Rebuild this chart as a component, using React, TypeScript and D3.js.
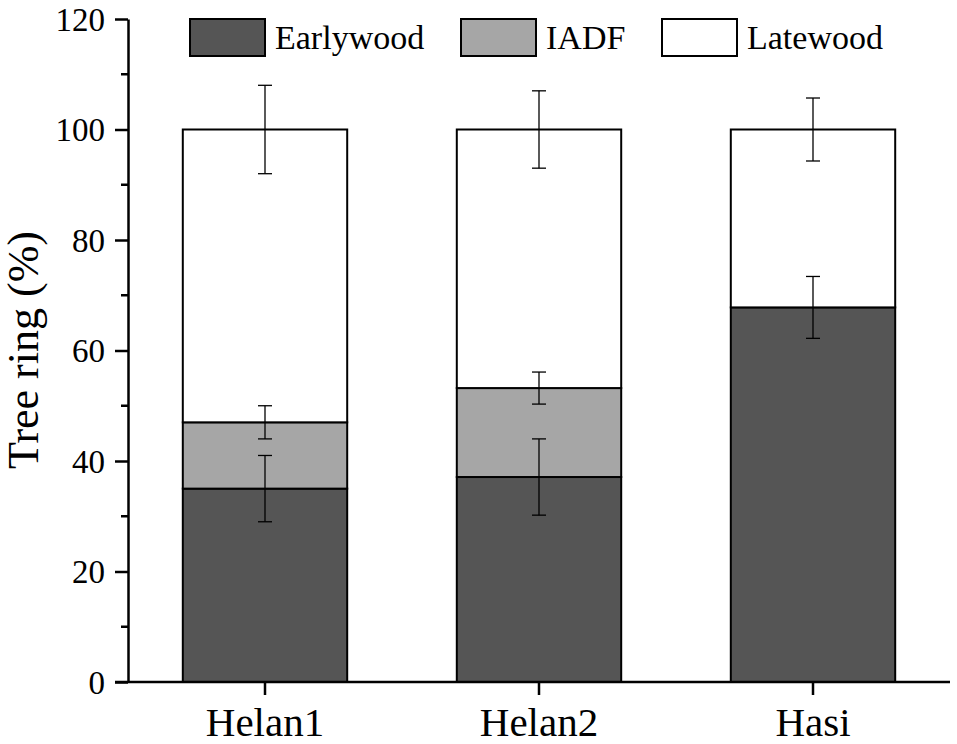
import React, { useRef, useEffect } from 'react';
import * as d3 from 'd3';

// Sites on the x axis
const categories = ['Helan1', 'Helan2', 'Hasi'];
// Stacked shares of the tree ring (%)
const earlywood = [35, 37.1, 67.8];
const iadf = [12, 16.1, 0];
const latewood = [53, 46.8, 32.2];
// Error bar half-lengths
const earlywoodErr = [6, 6.9, 5.6];
const iadfErr = [3, 2.9, 0];
const latewoodErr = [8, 7, 5.7];

const seriesNames = ['Earlywood', 'IADF', 'Latewood'];
const seriesColors = ['#555555', '#a6a6a6', '#ffffff'];
const yTicks = [0, 20, 40, 60, 80, 100, 120];

const App: React.FC = () => {
  const svgRef = useRef<SVGSVGElement | null>(null);

  useEffect(() => {
    document.body.style.margin = '0';
    if (!svgRef.current) return;

    const width = 957;
    const height = 744;
    const left = 128;
    const right = 950;
    const top = 19;
    const bottom = 682;
    const font = "'Liberation Serif', 'Times New Roman', serif";

    const svg = d3
      .select(svgRef.current)
      .attr('width', width)
      .attr('height', height)
      .style('font-family', font);
    svg.selectAll('*').remove();

    const x = d3.scaleBand().domain(categories).range([left, right]).paddingInner(0.4).paddingOuter(0.2);
    const y = d3.scaleLinear().domain([0, 120]).range([bottom, top]);

    const rows = categories.map((c, i) => ({
      site: c,
      Earlywood: earlywood[i],
      IADF: iadf[i],
      Latewood: latewood[i],
    }));
    const errs: Record<string, number[]> = {
      Earlywood: earlywoodErr,
      IADF: iadfErr,
      Latewood: latewoodErr,
    };

    const stacked = d3.stack<any>().keys(seriesNames)(rows);

    // Bars
    stacked.forEach((layer, li) => {
      svg
        .append('g')
        .selectAll('rect')
        .data(layer.filter(d => d[1] - d[0] > 0))
        .enter()
        .append('rect')
        .attr('x', d => x(d.data.site)!)
        .attr('y', d => y(d[1]))
        .attr('width', x.bandwidth())
        .attr('height', d => y(d[0]) - y(d[1]))
        .attr('fill', seriesColors[li])
        .attr('stroke', '#000')
        .attr('stroke-width', 2);
    });

    // Error bars
    const cap = 7;
    stacked.forEach(layer => {
      const e = errs[layer.key];
      layer.forEach((d, i) => {
        if (d[1] - d[0] <= 0 || e[i] <= 0) return;
        const cx = x(d.data.site)! + x.bandwidth() / 2;
        const g = svg.append('g').attr('stroke', '#000').attr('stroke-width', 1.3);
        g.append('line').attr('x1', cx).attr('x2', cx).attr('y1', y(d[1] + e[i])).attr('y2', y(d[1] - e[i]));
        g.append('line').attr('x1', cx - cap).attr('x2', cx + cap).attr('y1', y(d[1] + e[i])).attr('y2', y(d[1] + e[i]));
        g.append('line').attr('x1', cx - cap).attr('x2', cx + cap).attr('y1', y(d[1] - e[i])).attr('y2', y(d[1] - e[i]));
      });
    });

    // Y axis
    const yAxis = svg
      .append('g')
      .attr('transform', `translate(${left},0)`)
      .call(d3.axisLeft(y).tickValues(yTicks).tickSize(13).tickSizeOuter(0).tickPadding(10));
    yAxis.attr('font-family', null);
    yAxis.select('.domain').attr('stroke-width', 2.5);
    yAxis.selectAll('.tick line').attr('stroke-width', 2.5);
    yAxis.selectAll('text').style('font-family', font).style('font-size', '33px').attr('fill', '#000').attr('dy', '0.34em');
    yAxis
      .selectAll('.minor')
      .data(d3.range(10, 120, 20))
      .enter()
      .append('line')
      .attr('x1', -7)
      .attr('x2', 0)
      .attr('y1', d => y(d))
      .attr('y2', d => y(d))
      .attr('stroke', '#000')
      .attr('stroke-width', 2.5);

    // X axis
    const xAxis = svg
      .append('g')
      .attr('transform', `translate(0,${bottom})`)
      .call(d3.axisBottom(x).tickSize(13).tickSizeOuter(0).tickPadding(12));
    xAxis.attr('font-family', null);
    xAxis.select('.domain').attr('d', `M${left - 13},0H${right}`).attr('stroke-width', 2.5);
    xAxis.selectAll('.tick line').attr('stroke-width', 2.5);
    xAxis.selectAll('text').style('font-family', font).style('font-size', '41px').attr('fill', '#000');

    // Y title
    svg
      .append('text')
      .attr('transform', `translate(38,350) rotate(-90)`)
      .attr('text-anchor', 'middle')
      .style('font-size', '44px')
      .text('Tree ring (%)');

    // Legend
    const legendX = [190, 461, 662];
    const legend = svg.append('g');
    seriesNames.forEach((name, i) => {
      legend
        .append('rect')
        .attr('x', legendX[i])
        .attr('y', 19)
        .attr('width', 75)
        .attr('height', 37)
        .attr('fill', seriesColors[i])
        .attr('stroke', '#000')
        .attr('stroke-width', 2);
      legend
        .append('text')
        .attr('x', legendX[i] + 85)
        .attr('y', 49)
        .style('font-size', '34px')
        .text(name);
    });
  }, []);

  return <svg ref={svgRef} style={{ display: 'block' }}></svg>;
};

export default App;
